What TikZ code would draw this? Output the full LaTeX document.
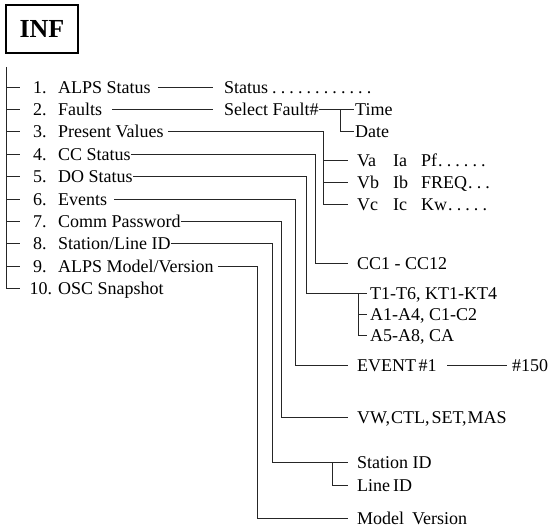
\documentclass[tikz,border=0pt]{standalone}
\usepackage{fontspec}
\setmainfont{Liberation Serif}
\usetikzlibrary{calc}
\newcommand{\dt}{.\kern4.1pt}
\begin{document}
\begin{tikzpicture}[x=1pt,y=-1pt,
  ln/.style={line width=0.9pt, draw=black!85},
  lbl/.style={inner sep=0pt, text height=12pt, text depth=0pt, anchor=west,
              font=\fontsize{18}{20}\selectfont},
  infbox/.style={draw, line width=1.5pt, minimum width=72pt, minimum height=48pt,
              inner sep=0pt, font=\bfseries\fontsize{26}{28}\selectfont}]
\useasboundingbox (0,0) rectangle (554,527);

\node[infbox] (inf) at (42,29) {INF};

% numbers
\node[lbl] (n1) at (33,87.0) {1.};
\node[lbl] (n2) at (33,109.4) {2.};
\node[lbl] (n3) at (33,131.8) {3.};
\node[lbl] (n4) at (33,154.2) {4.};
\node[lbl] (n5) at (33,176.6) {5.};
\node[lbl] (n6) at (33,199.0) {6.};
\node[lbl] (n7) at (33,221.4) {7.};
\node[lbl] (n8) at (33,243.8) {8.};
\node[lbl] (n9) at (33,266.2) {9.};
\node[lbl] (n10) at (29.5,288.6) {10.};

% labels
\node[lbl] (l1) at (58,87.0) {ALPS Status};
\node[lbl] (l2) at (58,109.4) {Faults};
\node[lbl] (l3) at (58,131.8) {Present Values};
\node[lbl] (l4) at (58,154.2) {CC Status};
\node[lbl] (l5) at (58,176.6) {DO Status};
\node[lbl] (l6) at (58,199.0) {Events};
\node[lbl] (l7) at (58,221.4) {Comm Password};
\node[lbl] (l8) at (58,243.8) {Station/Line ID};
\node[lbl] (l9) at (58,266.2) {ALPS Model/Version};
\node[lbl] (l10) at (58,288.6) {OSC Snapshot};

% trunk
\coordinate (ttop) at (6,67);
\foreach \i in {1,...,9}{
  \coordinate (k\i) at ($(n\i.west)+(-13,0)$);
  \draw[ln] (ttop |- k\i) -- (k\i);
}
\coordinate (k10) at ($(n10.west)+(-9.5,0)$);
\draw[ln] (ttop) |- (k10);

% targets
\node[lbl] (s1) at (224,87.0) {Status\kern4pt\dt\dt\dt\dt\dt\dt\dt\dt\dt\dt\dt.};
\node[lbl] (s2) at (224,109.4) {Select Fault\#};
\node[lbl] (time) at (355,109.4) {Time};
\node[lbl] (date) at (355,131.8) {Date};
\node[lbl] (va) at (357,160) {\makebox[36pt][l]{Va}\makebox[28pt][l]{Ia}Pf\kern1pt\dt\dt\dt\dt\dt.};
\node[lbl] (vb) at (357,182.4) {\makebox[36pt][l]{Vb}\makebox[28pt][l]{Ib}FREQ\kern1pt\dt\dt.};
\node[lbl] (vc) at (357,204.8) {\makebox[36pt][l]{Vc}\makebox[28pt][l]{Ic}Kw\kern1pt\dt\dt\dt\dt.};
\node[lbl] (cc) at (357,263) {CC1 - CC12};
\node[lbl] (t1) at (370,293) {T1-T6, KT1-KT4};
\node[lbl] (a1) at (370,314) {A1-A4, C1-C2};
\node[lbl] (a5) at (370,335) {A5-A8, CA};
\node[lbl] (ev) at (357,365) {EVENT\kern2.5pt\#1};
\node[lbl] (h150) at (512,365) {\#150};
\node[lbl] (vw) at (357,417) {VW,\kern1pt CTL,\kern2pt SET,\kern1pt MAS};
\node[lbl] (st) at (357,462) {Station ID};
\node[lbl] (li) at (357,485) {Line\kern3pt ID};
\node[lbl] (mv) at (357,518) {Model\kern8pt Version};

% connectors
\draw[ln] ($(l1.east)+(7,0)$) -- ($(s1.west)+(-11,0)$);
\draw[ln] ($(l2.east)+(10,0)$) -- ($(s2.west)+(-11,0)$);
\draw[ln] (s2.east) -- ($(time.west)+(-1,0)$);
\coordinate (b2) at (340,109.4);
\draw[ln] (b2) |- ($(date.west)+(-1,0)$);

\coordinate (x3) at (323,0);
\draw[ln] ($(l3.east)+(4,0)$) -| (x3 |- vc.west) -- ($(vc.west)+(-9,0)$);
\draw[ln] (x3 |- va.west) -- ($(va.west)+(-9,0)$);
\draw[ln] (x3 |- vb.west) -- ($(vb.west)+(-9,0)$);

\coordinate (x4) at (315,0);
\draw[ln] (l4.east) -| (x4 |- cc.west) -- ($(cc.west)+(-9,0)$);

\coordinate (x5) at (306,0);
\coordinate (b5) at (358,0);
\draw[ln] (l5.east) -| (x5 |- t1.west) -- ($(t1.west)+(-3,0)$);
\draw[ln] (b5 |- t1.west) |- ($(a5.west)+(-3,0)$);
\draw[ln] (b5 |- a1.west) -- ($(a1.west)+(-3,0)$);

\coordinate (x6) at (295,0);
\draw[ln] ($(l6.east)+(7,0)$) -| (x6 |- ev.west) -- ($(ev.west)+(-9,0)$);
\draw[ln] ($(h150.west)+(-65,0)$) -- ($(h150.west)+(-5,0)$);

\coordinate (x7) at (281,0);
\draw[ln] (l7.east) -| (x7 |- vw.west) -- ($(vw.west)+(-9,0)$);

\coordinate (x8) at (272,0);
\coordinate (b8) at (332,0);
\draw[ln] (l8.east) -| (x8 |- st.west) -- ($(st.west)+(-9,0)$);
\draw[ln] (b8 |- st.west) |- ($(li.west)+(-9,0)$);

\coordinate (x9) at (257,0);
\draw[ln] ($(l9.east)+(4,0)$) -| (x9 |- mv.west) -- ($(mv.west)+(-9,0)$);
\end{tikzpicture}
\end{document}
